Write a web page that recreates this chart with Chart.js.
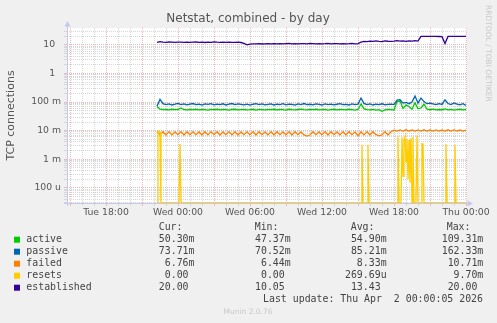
<!DOCTYPE html>
<html>
<head>
<meta charset="utf-8">
<title>Netstat, combined - by day</title>
<script src="https://cdn.jsdelivr.net/npm/chart.js@4.4.1/dist/chart.umd.min.js"></script>
<style>
  html, body { margin: 0; padding: 0; background: #f0f0f0; }
  canvas { display: block; }
</style>
</head>
<body>
<canvas id="myChart" width="497" height="323"></canvas>
<script>
// samples, one every 15 min, hours counted from Tue 00:00
const startHour = 22.25;
const stepHours = 0.25;

const active = [
    0.070, 0.057, 0.054, 0.055, 0.053, 0.056, 0.054, 0.055, 0.062, 0.054,
    0.053, 0.055, 0.054, 0.056, 0.053, 0.055, 0.054, 0.052, 0.055, 0.054,
    0.056, 0.053, 0.055, 0.054, 0.052, 0.055, 0.056, 0.053, 0.054, 0.055,
    0.053, 0.054, 0.056, 0.052, 0.055, 0.054, 0.053, 0.055, 0.054, 0.056,
    0.053, 0.055, 0.054, 0.052, 0.056, 0.054, 0.053, 0.055, 0.057, 0.054,
    0.053, 0.055, 0.054, 0.056, 0.053, 0.054, 0.055, 0.052, 0.054, 0.056,
    0.053, 0.055, 0.054, 0.053, 0.056, 0.054, 0.052, 0.055, 0.086, 0.058,
    0.054, 0.053, 0.055, 0.052, 0.054, 0.0474, 0.053, 0.055, 0.054, 0.053,
    0.104, 0.109, 0.060, 0.078, 0.070, 0.056, 0.094, 0.058, 0.062, 0.084,
    0.056, 0.054, 0.057, 0.053, 0.055, 0.054, 0.058, 0.053, 0.055, 0.052,
    0.054, 0.056, 0.053, 0.055
];
const passive = [
    0.072, 0.125, 0.088, 0.081, 0.086, 0.079, 0.084, 0.090, 0.082, 0.087,
    0.080, 0.085, 0.089, 0.081, 0.084, 0.078, 0.086, 0.083, 0.088, 0.080,
    0.085, 0.082, 0.087, 0.079, 0.084, 0.089, 0.081, 0.086, 0.083, 0.080,
    0.085, 0.078, 0.084, 0.088, 0.081, 0.086, 0.080, 0.083, 0.087, 0.079,
    0.084, 0.082, 0.088, 0.080, 0.085, 0.083, 0.078, 0.086, 0.082, 0.089,
    0.081, 0.084, 0.080, 0.087, 0.083, 0.079, 0.086, 0.082, 0.085, 0.080,
    0.084, 0.088, 0.081, 0.083, 0.079, 0.086, 0.082, 0.085, 0.138, 0.090,
    0.082, 0.086, 0.079, 0.084, 0.081, 0.087, 0.080, 0.083, 0.085, 0.082,
    0.118, 0.121, 0.092, 0.098, 0.088, 0.101, 0.162, 0.092, 0.138, 0.104,
    0.088, 0.092, 0.086, 0.081, 0.088, 0.083, 0.120, 0.089, 0.082, 0.093,
    0.085, 0.080, 0.088, 0.076
];
const failed = [
    0.0095, 0.0072, 0.0091, 0.0070, 0.0092, 0.0071, 0.0090, 0.0072, 0.0092, 0.0070,
    0.0091, 0.0071, 0.0092, 0.0072, 0.0090, 0.0070, 0.0091, 0.0071, 0.0092, 0.0072,
    0.0091, 0.0070, 0.0090, 0.0072, 0.0092, 0.0071, 0.0091, 0.0070, 0.0090, 0.0072,
    0.0091, 0.0071, 0.0092, 0.0070, 0.0091, 0.0072, 0.0090, 0.0071, 0.0092, 0.0070,
    0.0091, 0.0072, 0.0090, 0.0071, 0.0092, 0.0070, 0.0091, 0.0072, 0.0090, 0.0071,
    0.0064, 0.0070, 0.0091, 0.0072, 0.0090, 0.0071, 0.0092, 0.0070, 0.0091, 0.0072,
    0.0090, 0.0071, 0.0092, 0.0070, 0.0091, 0.0072, 0.0090, 0.0065, 0.0091, 0.0071,
    0.0092, 0.0070, 0.0091, 0.0072, 0.0066, 0.0071, 0.0092, 0.0070, 0.0091, 0.0104,
    0.0096, 0.0106, 0.0097, 0.0107, 0.0096, 0.0105, 0.0097, 0.0106, 0.0096, 0.0107,
    0.0097, 0.0105, 0.0096, 0.0106, 0.0097, 0.0105, 0.0096, 0.0107, 0.0097, 0.0106,
    0.0096, 0.0105, 0.0097, 0.0104
];
const established = [
    12.4, 13.1, 12.6, 12.4, 12.7, 12.5, 12.3, 12.6, 12.5, 12.4,
    12.6, 12.3, 12.5, 12.7, 12.4, 12.5, 12.2, 12.6, 12.4, 12.8,
    12.5, 12.3, 12.6, 12.4, 12.5, 12.3, 12.4, 12.6, 12.2, 11.4,
    10.1, 10.7, 11.0, 10.9, 11.1, 10.8, 11.0, 11.2, 10.9, 11.1,
    11.0, 11.2, 10.9, 11.1, 11.3, 11.0, 11.2, 10.9, 11.1, 11.2,
    11.0, 11.3, 11.1, 10.9, 11.2, 11.0, 11.1, 11.3, 11.0, 11.2,
    11.1, 10.9, 11.2, 11.0, 11.1, 11.3, 11.0, 11.2, 12.6, 13.4,
    13.1, 13.6, 13.3, 13.8, 13.4, 13.2, 13.9, 13.5, 13.3, 13.7,
    14.2, 13.6, 14.0, 13.4, 13.9, 13.7, 14.1, 13.6, 20.0, 20.0,
    20.0, 20.0, 20.0, 20.0, 19.8, 19.6, 11.2, 20.0, 20.0, 20.0,
    20.0, 20.0, 20.0, 20.0
];
// resets is zero most of the day, so it is kept as its own short list of points
const resetsHours = [
    22.25, 22.33, 22.5, 22.58, 24.08, 24.17, 24.25, 39.25, 39.33, 39.42, 39.75, 39.83, 39.92,
    42.25, 42.33, 42.42, 42.58, 42.67, 42.75, 42.83, 42.92, 43.0, 43.08, 43.17, 43.25,
    43.33, 43.42, 43.5, 43.58, 43.67, 43.83, 43.92, 44.0, 44.25, 44.33, 44.42, 44.5,
    46.25, 46.33, 46.42, 47.0, 47.08, 47.17, 48.0
];
const resetsValues = [
    0, 0.0097, 0.0090, 0, 0, 0.0034, 0, 0, 0.0032, 0, 0, 0.0032, 0,
    0, 0.0062, 0, 0, 0.0058, 0.00025, 0.0045, 0.0063, 0.0008, 0.0052, 0.0002, 0.0047,
    0.00015, 0.0055, 0, 0.006, 0, 0, 0.0068, 0, 0, 0.0035, 0.0034, 0,
    0, 0.0034, 0, 0, 0.0032, 0, 0
];

const xTickHours = [18, 24, 30, 36, 42, 48];
const xTickLabels = ['Tue 18:00', 'Wed 00:00', 'Wed 06:00', 'Wed 12:00', 'Wed 18:00', 'Thu 00:00'];
const yTickValues = [1e-4, 1e-3, 1e-2, 1e-1, 1, 10];
const yTickLabels = ['100 u', '1 m', '10 m', '100 m', '1', '10'];

const legendNames = ['active', 'passive', 'failed', 'resets', 'established'];
const legendColours = ['#00cc00', '#0066b3', '#ff8000', '#ffcc00', '#330099'];
const curValues = ['50.30m', '73.71m', '6.76m', '0.00', '20.00'];
const minValues = ['47.37m', '70.52m', '6.44m', '0.00', '10.05'];
const avgValues = ['54.90m', '85.21m', '8.33m', '269.69u', '13.43'];
const maxValues = ['109.31m', '162.33m', '10.71m', '9.70m', '20.00'];
const lastUpdate = 'Last update: Thu Apr  2 00:00:05 2026';

const xMin = 14.75;
const xMax = 48.0833;
const yMin = 2.92e-5;
const yMax = 39.3;
const majorGrid = '#eeb8b8';
const minorGrid = '#d6d6d6';
const axisColour = '#c4c8f0';

// rrdtool puts values under the lower limit (the zeros) on the bottom edge
const toPoints = (hours, values) => values.map((v, i) => ({ x: hours[i], y: Math.max(v, yMin) }));
const sampleHours = active.map((v, i) => startHour + i * stepHours);

const padValue = s => /[a-z]$/i.test(s) ? s : s + ' ';

const muninFrame = {
    id: 'muninFrame',
    beforeDraw(chart) {
        const { ctx, chartArea: a } = chart;
        ctx.save();
        ctx.fillStyle = '#f0f0f0';
        ctx.fillRect(0, 0, chart.width, chart.height);
        ctx.fillStyle = '#ffffff';
        ctx.fillRect(a.left, a.top, a.right - a.left, a.bottom - a.top);
        ctx.restore();
    },
    beforeDatasetsDraw(chart) {
        const { ctx, chartArea: a } = chart;
        ctx.save();
        ctx.strokeStyle = axisColour;
        ctx.fillStyle = axisColour;
        ctx.lineWidth = 1;
        ctx.beginPath();
        ctx.moveTo(a.left + 0.5, a.bottom + 3);
        ctx.lineTo(a.left + 0.5, a.top - 3);
        ctx.moveTo(a.left - 3, a.bottom + 0.5);
        ctx.lineTo(a.right + 2, a.bottom + 0.5);
        ctx.stroke();
        ctx.beginPath();
        ctx.moveTo(a.left + 0.5, a.top - 7);
        ctx.lineTo(a.left - 2.5, a.top - 1.5);
        ctx.lineTo(a.left + 3.5, a.top - 1.5);
        ctx.fill();
        ctx.beginPath();
        ctx.moveTo(a.right + 6, a.bottom + 0.5);
        ctx.lineTo(a.right + 0.5, a.bottom - 2.5);
        ctx.lineTo(a.right + 0.5, a.bottom + 3.5);
        ctx.fill();
        ctx.restore();
    },
    afterDraw(chart) {
        const { ctx } = chart;
        ctx.save();
        ctx.textBaseline = 'middle';
        // title
        ctx.fillStyle = '#555';
        ctx.font = '12px "DejaVu Sans"';
        ctx.textAlign = 'center';
        ctx.fillText('Netstat, combined - by day', 248, 19);
        // vertical label
        ctx.save();
        ctx.translate(11, 115.5);
        ctx.rotate(-Math.PI / 2);
        ctx.font = '11px "DejaVu Sans"';
        ctx.fillText('TCP connections', 0, 0);
        ctx.restore();
        // watermark on the right
        ctx.save();
        ctx.translate(488, 5);
        ctx.rotate(Math.PI / 2);
        ctx.textAlign = 'left';
        ctx.fillStyle = '#c8c8c8';
        ctx.font = '7.5px "DejaVu Sans"';
        ctx.fillText('RRDTOOL / TOBI OETIKER', 0, 0);
        ctx.restore();
        // legend
        ctx.font = '9.9px "DejaVu Sans Mono"';
        ctx.fillStyle = '#444';
        ctx.textAlign = 'left';
        const headX = [158.7, 254.7, 350.7, 446.7];
        ['Cur:', 'Min:', 'Avg:', 'Max:'].forEach((h, k) => ctx.fillText(h, headX[k], 227.7));
        const colRight = [194.5, 290.7, 386.6, 483.3];
        legendNames.forEach((name, i) => {
            const y = 239.7 + i * 12;
            ctx.fillStyle = legendColours[i];
            ctx.fillRect(14, y - 3, 6, 6);
            ctx.fillStyle = '#444';
            ctx.textAlign = 'left';
            ctx.fillText(name, 26.3, y);
            ctx.textAlign = 'right';
            [curValues, minValues, avgValues, maxValues].forEach((col, k) => {
                ctx.fillText(padValue(col[i]), colRight[k], y);
            });
        });
        ctx.textAlign = 'right';
        ctx.fillText(lastUpdate, 483, 299.5);
        // footer
        ctx.textAlign = 'center';
        ctx.fillStyle = '#c8c8c8';
        ctx.font = '7.5px "DejaVu Sans"';
        ctx.fillText('Munin 2.0.76', 248, 312);
        ctx.restore();
    }
};

Chart.defaults.font.family = '"DejaVu Sans", sans-serif';

const ctx = document.getElementById('myChart').getContext('2d');

const data = {
    datasets: [
        { label: 'established', data: toPoints(sampleHours, established), borderColor: legendColours[4] },
        { label: 'resets', data: toPoints(resetsHours, resetsValues), borderColor: legendColours[3] },
        { label: 'failed', data: toPoints(sampleHours, failed), borderColor: legendColours[2] },
        { label: 'passive', data: toPoints(sampleHours, passive), borderColor: legendColours[1] },
        { label: 'active', data: toPoints(sampleHours, active), borderColor: legendColours[0] },
    ]
};

const myChart = new Chart(ctx, {
    type: 'line',
    data: data,
    plugins: [muninFrame],
    options: {
        responsive: false,
        animation: false,
        devicePixelRatio: 1,
        layout: { padding: { left: 0, top: 28, right: 30, bottom: 100 } },
        elements: {
            line: { borderWidth: 1.3, tension: 0, fill: false },
            point: { radius: 0, hoverRadius: 0 },
        },
        plugins: {
            legend: { display: false },
            tooltip: { enabled: false },
        },
        scales: {
            x: {
                type: 'linear',
                min: xMin,
                max: xMax,
                bounds: 'data',
                afterBuildTicks: scale => {
                    const ticks = [];
                    for (let h = 15; h <= 48; h++) ticks.push({ value: h });
                    scale.ticks = ticks;
                },
                afterFit: scale => { scale.height = 20; },
                grid: {
                    color: c => (c.tick && c.tick.value % 3 === 0) ? majorGrid : minorGrid,
                    tickColor: c => (c.tick && c.tick.value % 3 === 0) ? majorGrid : minorGrid,
                    drawTicks: true,
                    tickLength: 3,
                },
                border: { display: false, dash: [1, 1] },
                ticks: {
                    autoSkip: false,
                    maxRotation: 0,
                    padding: 1,
                    color: '#555',
                    font: { size: 9.3 },
                    callback: v => {
                        const k = xTickHours.indexOf(v);
                        return k < 0 ? '' : xTickLabels[k];
                    },
                },
            },
            y: {
                type: 'logarithmic',
                min: yMin,
                max: yMax,
                bounds: 'data',
                afterBuildTicks: scale => {
                    const ticks = [];
                    for (let d = -5; d <= 1; d++) {
                        for (let m = 1; m <= 9; m++) {
                            const v = m * Math.pow(10, d);
                            if (v >= yMin && v <= yMax) ticks.push({ value: v, isMajor: m === 1 });
                        }
                    }
                    scale.ticks = ticks;
                },
                afterFit: scale => { scale.width = 67; },
                grid: {
                    color: c => (c.tick && c.tick.isMajor) ? majorGrid : minorGrid,
                    tickColor: c => (c.tick && c.tick.isMajor) ? majorGrid : minorGrid,
                    drawTicks: true,
                    tickLength: 3,
                },
                border: { display: false, dash: [1, 1] },
                ticks: {
                    autoSkip: false,
                    padding: 3,
                    color: '#555',
                    font: { size: 9.3 },
                    callback: v => {
                        const k = yTickValues.findIndex(t => Math.abs(t - v) / t < 1e-6);
                        if (k < 0) return '';
                        const label = yTickLabels[k];
                        return label.includes(' ') ? label : label + '\u2007';
                    },
                },
            },
        },
    },
});
</script>
</body>
</html>
